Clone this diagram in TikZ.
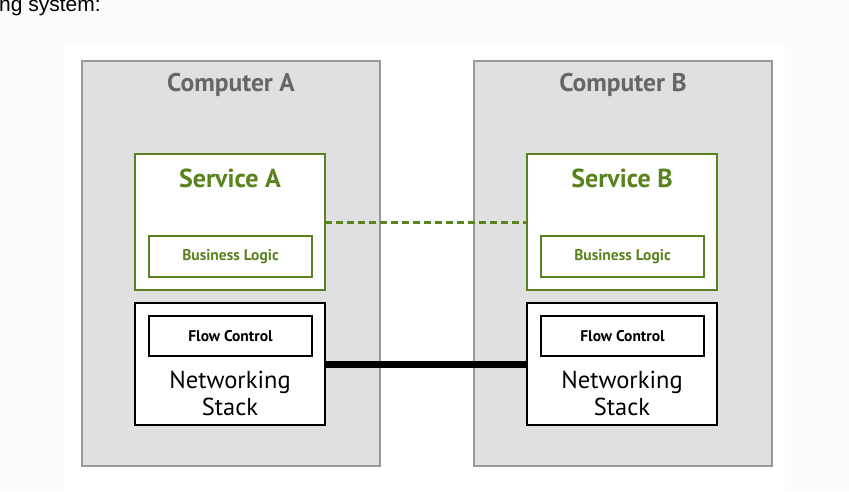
\documentclass[tikz,border=0pt]{standalone}
\usepackage{fontspec}
\setmainfont{PT Sans}
\newfontfamily\pagefont{Liberation Sans}
\definecolor{nvgreen}{HTML}{5A821E}
\definecolor{boxgray}{HTML}{E0E0E0}
\definecolor{edgegray}{HTML}{999999}
\definecolor{titlegray}{HTML}{666666}
\begin{document}
\begin{tikzpicture}[x=1pt,y=-1pt,
  computer/.style={draw=edgegray,fill=boxgray,line width=1.2pt},
  service/.style={draw=nvgreen,fill=white,line width=2.8pt},
  logic/.style={draw=nvgreen,fill=white,line width=1.2pt},
  stackbox/.style={draw=black,fill=white,line width=1.2pt},
  ctitle/.style={font=\bfseries\fontsize{25.5}{28}\selectfont,text=titlegray},
  stitle/.style={font=\bfseries\fontsize{26}{28}\selectfont,text=nvgreen},
  small/.style={font=\bfseries\fontsize{15.5}{17}\selectfont},
  stacktext/.style={font=\fontsize{24.5}{27}\selectfont,align=center}]
  % page and white diagram panel
  \fill[white!99!black] (0,0) rectangle (849,491);
  \useasboundingbox (0,0) rectangle (849,491);
  \fill[white] (64,44) rectangle (785,491);
  \node[anchor=base west,inner sep=0pt,font=\pagefont\fontsize{21}{24}\selectfont] (caption) at (-1,11) {ng system:};

  % computers
  \draw[computer] (82,61) rectangle (380,466);
  \draw[computer] (474,61) rectangle (772,466);
  \node[ctitle] (ca) at (231,85) {Computer A};
  \node[ctitle] (cb) at (623,85) {Computer B};

  % services
  \draw[service] (135,154) rectangle (325,290);
  \coordinate (svcA) at (325,222);
  \node[stitle] (sa) at (230,178) {Service A};
  \node[logic,small,text=nvgreen,minimum width=163pt,minimum height=41pt] (bla) at (230.5,256.5) {Business Logic};

  \draw[service] (527,154) rectangle (717,290);
  \coordinate (svcB) at (527,222);
  \node[stitle] (sb) at (622,178) {Service B};
  \node[logic,small,text=nvgreen,minimum width=163pt,minimum height=41pt] (blb) at (622.5,256.5) {Business Logic};

  % networking stacks
  \draw[stackbox] (135,303) rectangle (325,425);
  \coordinate (netA) at (325,364);
  \node[stackbox,small,minimum width=163pt,minimum height=40pt] (fca) at (230.5,336) {Flow Control};
  \node[stacktext] (nsa) at (230,393) {Networking\\Stack};

  \draw[stackbox] (527,303) rectangle (717,425);
  \coordinate (netB) at (527,364);
  \node[stackbox,small,minimum width=163pt,minimum height=40pt] (fcb) at (622.5,336) {Flow Control};
  \node[stacktext] (nsb) at (622,393) {Networking\\Stack};

  % links between the two computers
  \draw[nvgreen,line width=3pt,dash pattern=on 7pt off 4pt] (svcA) -- (svcB);
  \draw[black,line width=7pt] (netA) -- (netB);
\end{tikzpicture}
\end{document}
